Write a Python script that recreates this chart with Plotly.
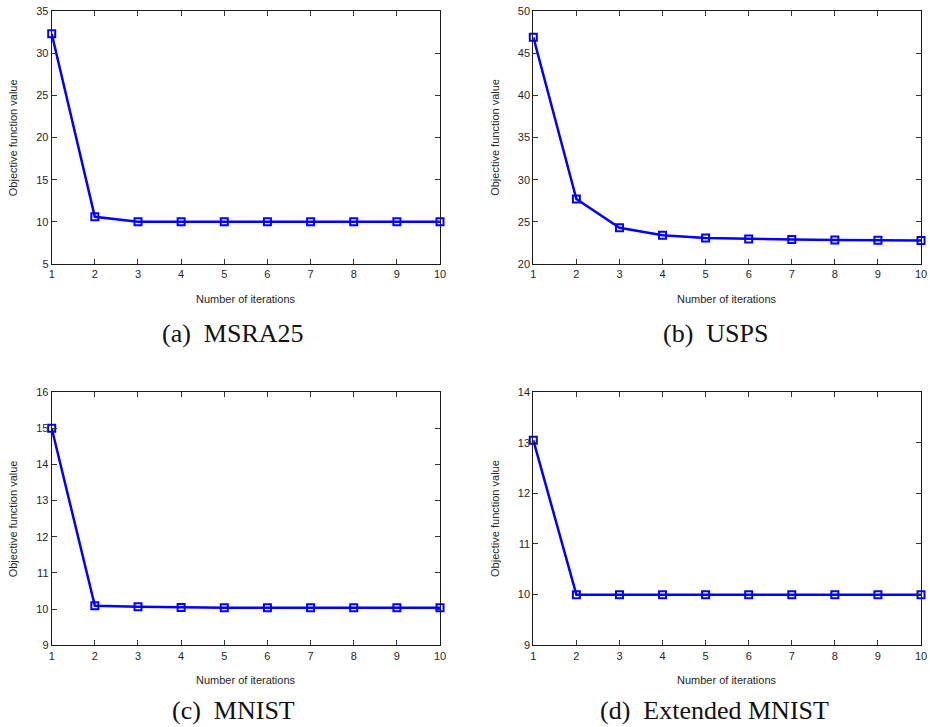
import plotly.graph_objects as go

iterations = [1, 2, 3, 4, 5, 6, 7, 8, 9, 10]
msra25 = [32.3, 10.6, 10.0, 10.0, 10.0, 10.0, 10.0, 10.0, 10.0, 10.0]
usps = [46.9, 27.7, 24.3, 23.4, 23.08, 22.96, 22.9, 22.85, 22.82, 22.8]
mnist = [15.0, 10.09, 10.065, 10.046, 10.04, 10.038, 10.038, 10.037, 10.037, 10.037]
ext_mnist = [13.05, 10.0, 10.0, 10.0, 10.0, 10.0, 10.0, 10.0, 10.0, 10.0]

captions = ["(a)  MSRA25", "(b)  USPS", "(c)  MNIST", "(d)  Extended MNIST"]
y_ranges = [[5, 35], [20, 50], [9, 16], [9, 14]]
y_dtick = [5, 5, 1, 1]
x_title = "Number of iterations"
y_title = "Objective function value"

W, H = 930, 727
# plot-area pixel boxes in window coordinates (left, right, top, bottom)
boxes = [
    (51.7, 440.0, 11.0, 264.0),
    (533.3, 921.0, 11.0, 264.0),
    (51.7, 440.0, 392.0, 645.3),
    (533.3, 921.0, 392.0, 645.3),
]
caption_pos = [(233, 333), (715, 333), (233, 710), (714, 710)]

series = [msra25, usps, mnist, ext_mnist]


def px(x):
    return x / W


def py(y):
    return 1 - y / H


fig = go.Figure()
axis_common = dict(
    showline=True, linecolor="#1a1a1a", linewidth=1, mirror="ticks",
    ticks="inside", ticklen=5, tickcolor="#333333", tickwidth=1,
    showgrid=False, zeroline=False, automargin=False,
    tickfont=dict(family="Liberation Sans, Arial, sans-serif", size=11, color="#262626"),
)
annotations = []
for i, (vals, box) in enumerate(zip(series, boxes)):
    n = i + 1
    xa = "x" if n == 1 else f"x{n}"
    ya = "y" if n == 1 else f"y{n}"
    fig.add_trace(go.Scatter(
        x=iterations, y=vals, xaxis=xa, yaxis=ya, mode="lines+markers",
        line=dict(color="#0000ff", width=2.5),
        marker=dict(symbol="square-open", size=7, color="#0000ff", line=dict(width=2, color="#0000ff")),
        showlegend=False, cliponaxis=False,
    ))
    l, r, t, b = box
    xkey = "xaxis" if n == 1 else f"xaxis{n}"
    ykey = "yaxis" if n == 1 else f"yaxis{n}"
    fig.update_layout({
        xkey: dict(axis_common, domain=[px(l), px(r)], range=[1, 10], dtick=1, tick0=1,
                   anchor=ya),
        ykey: dict(axis_common, domain=[py(b), py(t)], range=y_ranges[i],
                   dtick=y_dtick[i], anchor=xa),
    })
    annotations.append(dict(
        x=px((l + r) / 2), y=py(b + 35), xref="paper", yref="paper",
        text=x_title, showarrow=False, xanchor="center", yanchor="middle",
        font=dict(family="Liberation Sans, Arial, sans-serif", size=11, color="#262626"),
    ))
    annotations.append(dict(
        x=px(l - 39), y=py((t + b) / 2), xref="paper", yref="paper",
        text=y_title, showarrow=False, textangle=-90, xanchor="center", yanchor="middle",
        font=dict(family="Liberation Sans, Arial, sans-serif", size=11, color="#262626"),
    ))
    cx, cy = caption_pos[i]
    annotations.append(dict(
        x=px(cx), y=py(cy), xref="paper", yref="paper",
        text=captions[i], showarrow=False, xanchor="center", yanchor="middle",
        font=dict(family="Liberation Serif, Times New Roman, serif", size=26, color="#111111"),
    ))

fig.update_layout(
    width=W, height=H, margin=dict(l=0, r=0, t=0, b=0, autoexpand=False),
    plot_bgcolor="white", paper_bgcolor="white",
    annotations=annotations, hovermode=False,
)
fig.write_html(
    "out.html",
    config={"displayModeBar": False, "staticPlot": True},
    post_script="document.body.style.margin='0px';document.body.style.overflow='hidden';",
)
